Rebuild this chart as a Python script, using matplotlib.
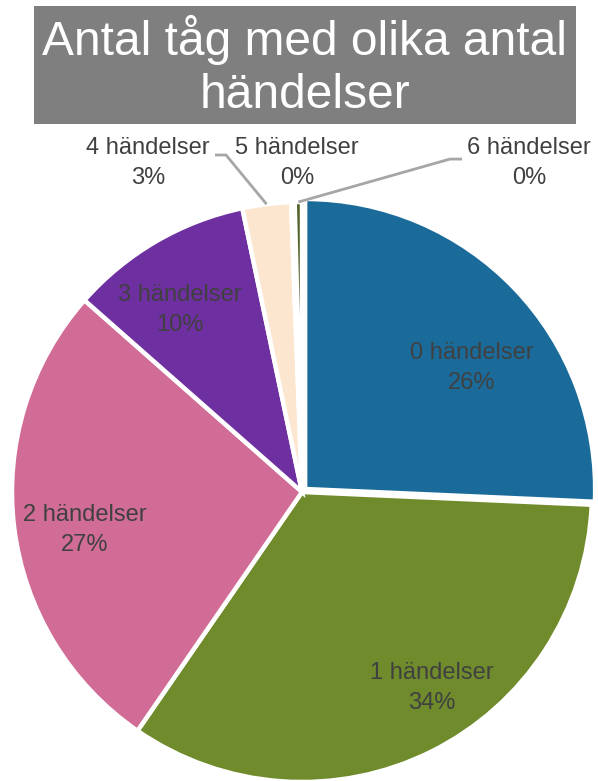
import numpy as np
import matplotlib.pyplot as plt
from matplotlib.patches import Rectangle

plt.rcParams['font.family'] = ['Liberation Sans', 'DejaVu Sans']

# data
categories = ['0 händelser', '1 händelser', '2 händelser', '3 händelser',
              '4 händelser', '5 händelser', '6 händelser']
shares = [25.7, 33.9, 26.9, 10.2, 2.7, 0.2, 0.4]
pct_labels = ['26%', '34%', '27%', '10%', '3%', '0%', '0%']
colors = ['#1B6B9A', '#6F8B2C', '#D06C96', '#6E2FA0', '#FCE6D0', '#FDF3EA', '#4F6228']
explode = [0.015, 0, 0, 0, 0, 0, 0]

# label anchor positions (pie radius = 1, centre = 0,0)
label_pos = [(0.586, 0.428), (0.448, -0.676), (-0.748, -0.131), (-0.421, 0.628),
             (-0.531, 1.134), (-0.017, 1.134), (0.783, 1.134)]
# elbow points of the leader lines for the outside labels
leader_elbow = {4: [(-0.300, 1.162), (-0.262, 1.162)],
                6: [(0.552, 1.148), (0.510, 1.148)]}

W, H = 598, 781
R = 290.0
cx, cy = 302, 492   # pie centre in pixels (from top)

fig = plt.figure(figsize=(W / 100, H / 100), dpi=100)
ax = fig.add_axes([0, 0, 1, 1])

wedges, _ = ax.pie(shares, colors=colors, startangle=90, counterclock=False,
                   explode=explode, radius=1.0,
                   wedgeprops=dict(edgecolor='white', linewidth=3.2))

ax.set_xlim(-cx / R, (W - cx) / R)
ax.set_ylim((cy - H) / R, cy / R)
ax.set_aspect('auto')
ax.axis('off')

for i, (cat, pct) in enumerate(zip(categories, pct_labels)):
    x, y = label_pos[i]
    ax.text(x, y, cat + '\n' + pct, ha='center', va='center', fontsize=17,
            color='#404040', linespacing=1.48)

# leader lines to the small slices
for i, elbow in leader_elbow.items():
    w = wedges[i]
    theta = np.deg2rad((w.theta1 + w.theta2) / 2)
    end = (np.cos(theta) * 1.0, np.sin(theta) * 1.0)
    xs = [p[0] for p in elbow] + [end[0]]
    ys = [p[1] for p in elbow] + [end[1]]
    ax.plot(xs, ys, color='#A6A6A6', lw=2, solid_capstyle='butt', clip_on=False)

# title box
fig.patches.append(Rectangle((34 / W, 1 - 124 / H), (576 - 34) / W, (124 - 6) / H,
                             transform=fig.transFigure, facecolor='#7F7F7F',
                             edgecolor='none', zorder=0))
fig.text(305 / W, 1 - 55 / H, 'Antal tåg med olika antal', ha='center', va='baseline',
         fontsize=34.5, color='white')
fig.text(305 / W, 1 - 108 / H, 'händelser', ha='center', va='baseline',
         fontsize=34.5, color='white')

fig.savefig('out.png', dpi=100)
